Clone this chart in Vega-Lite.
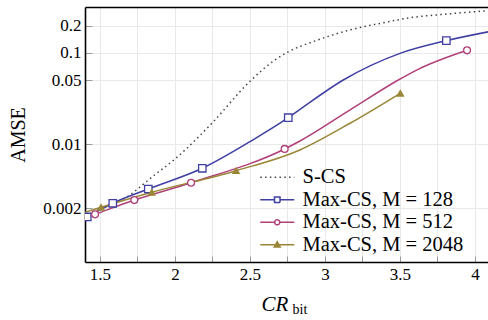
{
  "$schema": "https://vega.github.io/schema/vega-lite/v6.json",
  "width": 403,
  "height": 255,
  "autosize": "none",
  "padding": {"left": 85, "top": 7, "right": 0, "bottom": 58},
  "background": "white",
  "config": {"font": "Liberation Serif", "view": {"stroke": null}, "axis": {"labelFont": "Liberation Serif", "titleFont": "Liberation Serif"}, "legend": {"labelFont": "Liberation Serif"}},
  "data": {"values": [
    {"s": "S-CS", "x": 1.42, "y": 0.00172, "m": 0},
    {"s": "S-CS", "x": 1.55, "y": 0.0021, "m": 0},
    {"s": "S-CS", "x": 1.65, "y": 0.00248, "m": 0},
    {"s": "S-CS", "x": 1.867, "y": 0.00466, "m": 0},
    {"s": "S-CS", "x": 2.0, "y": 0.0069, "m": 0},
    {"s": "S-CS", "x": 2.067, "y": 0.00867, "m": 0},
    {"s": "S-CS", "x": 2.253, "y": 0.0175, "m": 0},
    {"s": "S-CS", "x": 2.489, "y": 0.047, "m": 0},
    {"s": "S-CS", "x": 2.66, "y": 0.0824, "m": 0},
    {"s": "S-CS", "x": 2.755, "y": 0.103, "m": 0},
    {"s": "S-CS", "x": 2.92, "y": 0.133, "m": 0},
    {"s": "S-CS", "x": 3.145, "y": 0.175, "m": 0},
    {"s": "S-CS", "x": 3.367, "y": 0.211, "m": 0},
    {"s": "S-CS", "x": 3.589, "y": 0.246, "m": 0},
    {"s": "S-CS", "x": 3.811, "y": 0.267, "m": 0},
    {"s": "S-CS", "x": 4.1, "y": 0.292, "m": 0},
    {"s": "Max-CS, M = 128", "x": 1.415, "y": 0.0016, "m": 1},
    {"s": "Max-CS, M = 128", "x": 1.585, "y": 0.00226, "m": 1},
    {"s": "Max-CS, M = 128", "x": 1.822, "y": 0.00324, "m": 1},
    {"s": "Max-CS, M = 128", "x": 2.182, "y": 0.00546, "m": 1},
    {"s": "Max-CS, M = 128", "x": 2.5, "y": 0.0107, "m": 0},
    {"s": "Max-CS, M = 128", "x": 2.755, "y": 0.01955, "m": 1},
    {"s": "Max-CS, M = 128", "x": 2.833, "y": 0.0241, "m": 0},
    {"s": "Max-CS, M = 128", "x": 3.122, "y": 0.0506, "m": 0},
    {"s": "Max-CS, M = 128", "x": 3.5, "y": 0.099, "m": 0},
    {"s": "Max-CS, M = 128", "x": 3.809, "y": 0.1365, "m": 1},
    {"s": "Max-CS, M = 128", "x": 4.1, "y": 0.172, "m": 0},
    {"s": "Max-CS, M = 512", "x": 1.4, "y": 0.00156, "m": 0},
    {"s": "Max-CS, M = 512", "x": 1.467, "y": 0.00171, "m": 1},
    {"s": "Max-CS, M = 512", "x": 1.729, "y": 0.00245, "m": 1},
    {"s": "Max-CS, M = 512", "x": 2.107, "y": 0.00379, "m": 1},
    {"s": "Max-CS, M = 512", "x": 2.731, "y": 0.00889, "m": 1},
    {"s": "Max-CS, M = 512", "x": 2.833, "y": 0.01086, "m": 0},
    {"s": "Max-CS, M = 512", "x": 3.167, "y": 0.0238, "m": 0},
    {"s": "Max-CS, M = 512", "x": 3.489, "y": 0.0506, "m": 0},
    {"s": "Max-CS, M = 512", "x": 3.611, "y": 0.065, "m": 0},
    {"s": "Max-CS, M = 512", "x": 3.947, "y": 0.107, "m": 1},
    {"s": "Max-CS, M = 2048", "x": 1.4, "y": 0.0018, "m": 0},
    {"s": "Max-CS, M = 2048", "x": 1.507, "y": 0.00204, "m": 1},
    {"s": "Max-CS, M = 2048", "x": 1.845, "y": 0.00298, "m": 1},
    {"s": "Max-CS, M = 2048", "x": 2.407, "y": 0.00514, "m": 1},
    {"s": "Max-CS, M = 2048", "x": 2.833, "y": 0.00867, "m": 0},
    {"s": "Max-CS, M = 2048", "x": 3.167, "y": 0.017, "m": 0},
    {"s": "Max-CS, M = 2048", "x": 3.502, "y": 0.0362, "m": 1}
  ]},
  "resolve": {"axis": {"x": "independent"}},
  "layer": [
    {
      "transform": [{"filter": "datum.s === 'S-CS'"}],
      "mark": {"type": "line", "strokeWidth": 1.5, "strokeDash": [1.5, 3.3], "strokeCap": "butt", "interpolate": "monotone", "clip": true},
      "encoding": {
        "x": {"field": "x", "type": "quantitative",
          "scale": {"domain": [1.4, 4.0867], "nice": false, "zero": false},
          "axis": {"orient": "bottom", "values": [1.5, 1.75, 2, 2.25, 2.5, 2.75, 3, 3.25, 3.5, 3.75, 4],
            "labelExpr": "datum.value % 0.5 === 0 ? format(datum.value, '~g') : ''",
            "domain": true, "domainColor": "black", "domainWidth": 1.6,
            "ticks": true, "tickSize": -6, "tickColor": "#9a9a9a", "tickWidth": 1,
            "grid": true, "gridColor": "#e9e9e9", "gridWidth": 1,
            "labelFont": "Liberation Serif", "labelFontSize": 17, "labelColor": "black",
            "labelBaseline": "alphabetic", "labelPadding": 23,
            "title": "CR", "titleFont": "Liberation Serif", "titleFontStyle": "italic", "titleFontWeight": "normal",
            "titleFontSize": 21, "titleColor": "black", "titleX": 176, "titleY": 48,
            "titleAlign": "left", "titleBaseline": "alphabetic", "titleAngle": 0}},
        "y": {"field": "y", "type": "quantitative",
          "scale": {"type": "log", "domain": [0.000514, 0.319], "nice": false},
          "axis": {"values": [0.002, 0.01, 0.05, 0.1, 0.2],
            "labelExpr": "format(datum.value, '~g')",
            "domain": true, "domainColor": "black", "domainWidth": 1.6,
            "ticks": true, "tickSize": -7, "tickColor": "#9a9a9a", "tickWidth": 1,
            "grid": true, "gridColor": "#e9e9e9", "gridWidth": 1,
            "labelFont": "Liberation Serif", "labelFontSize": 17, "labelColor": "black",
            "labelPadding": 11,
            "title": "AMSE", "titleFont": "Liberation Serif", "titleFontWeight": "normal",
            "titleFontSize": 20, "titleColor": "black", "titleX": -61, "titleY": 127.5,
            "titleAlign": "center", "titleBaseline": "alphabetic", "titleAngle": -90}},
        "color": {"field": "s", "type": "nominal",
          "scale": {"domain": ["S-CS", "Max-CS, M = 128", "Max-CS, M = 512", "Max-CS, M = 2048"],
                    "range": ["#444444", "#3F3FA3", "#B0407A", "#9A8636"]},
          "legend": {"orient": "none", "legendX": 182, "legendY": 160, "title": null,
            "labelFont": "Liberation Serif", "labelFontSize": 20.5, "labelColor": "black", "labelLimit": 400,
            "symbolSize": 100, "symbolStrokeWidth": 1.5, "labelOffset": 15, "rowPadding": 1.5,
            "padding": 0,
            "encode": {"symbols": {"update": {
              "shape": {"signal": "datum.value === 'S-CS' ? 'M-3.4,0H3.4' : datum.value === 'Max-CS, M = 128' ? 'M-3.4,0H-0.55M0.55,0H3.4M-0.55,-0.55H0.55V0.55H-0.55Z' : datum.value === 'Max-CS, M = 512' ? 'M-3.4,0H-0.5M0.5,0H3.4M-0.5,0A0.5,0.5,0,1,1,0.5,0A0.5,0.5,0,1,1,-0.5,0Z' : 'M-3.4,0H3.4M0,-0.6L0.6,0.45L-0.6,0.45Z'"},
              "fill": {"signal": "datum.value === 'Max-CS, M = 2048' ? '#9A8636' : datum.value === 'S-CS' ? 'transparent' : 'white'"},
              "stroke": {"signal": "datum.value === 'S-CS' ? '#444444' : datum.value === 'Max-CS, M = 128' ? '#3F3FA3' : datum.value === 'Max-CS, M = 512' ? '#B0407A' : '#9A8636'"},
              "strokeDash": {"signal": "datum.value === 'S-CS' ? [1.5, 3.3] : [1, 0]"},
              "strokeWidth": {"value": 1.5},
              "opacity": {"value": 1}
            }}}}}
      }
    },
    {
      "transform": [{"filter": "datum.s !== 'S-CS'"}],
      "mark": {"type": "line", "strokeWidth": 1.5, "interpolate": "monotone", "clip": true},
      "encoding": {
        "x": {"field": "x", "type": "quantitative", "scale": {"domain": [1.4, 4.0867], "nice": false, "zero": false}, "axis": null},
        "y": {"field": "y", "type": "quantitative", "scale": {"type": "log", "domain": [0.000514, 0.319], "nice": false}},
        "color": {"field": "s", "type": "nominal",
          "scale": {"domain": ["S-CS", "Max-CS, M = 128", "Max-CS, M = 512", "Max-CS, M = 2048"],
                    "range": ["#444444", "#3F3FA3", "#B0407A", "#9A8636"]}}
      }
    },
    {
      "transform": [{"filter": "datum.m === 1"}],
      "mark": {"type": "point", "filled": true, "strokeWidth": 1.3, "opacity": 1, "clip": true},
      "encoding": {
        "x": {"field": "x", "type": "quantitative", "scale": {"domain": [1.4, 4.0867], "nice": false, "zero": false},
          "axis": {"orient": "top", "domain": true, "domainColor": "black", "domainWidth": 1.6,
            "ticks": false, "labels": false, "grid": false,
            "title": "bit", "titleFont": "Liberation Serif", "titleFontWeight": "normal", "titleFontSize": 14,
            "titleColor": "black", "titleX": 207, "titleY": 306, "titleAlign": "left", "titleBaseline": "alphabetic", "titleAngle": 0}},
        "y": {"field": "y", "type": "quantitative", "scale": {"type": "log", "domain": [0.000514, 0.319], "nice": false}},
        "shape": {"field": "s", "type": "nominal",
          "scale": {"domain": ["Max-CS, M = 128", "Max-CS, M = 512", "Max-CS, M = 2048"], "range": ["square", "circle", "triangle-up"]},
          "legend": null},
        "stroke": {"field": "s", "type": "nominal",
          "scale": {"domain": ["Max-CS, M = 128", "Max-CS, M = 512", "Max-CS, M = 2048"], "range": ["#3F3FA3", "#B0407A", "#9A8636"]},
          "legend": null},
        "fill": {"field": "s", "type": "nominal",
          "scale": {"domain": ["Max-CS, M = 128", "Max-CS, M = 512", "Max-CS, M = 2048"], "range": ["white", "white", "#9A8636"]},
          "legend": null},
        "size": {"field": "s", "type": "nominal",
          "scale": {"domain": ["Max-CS, M = 128", "Max-CS, M = 512", "Max-CS, M = 2048"], "range": [55, 40, 50]},
          "legend": null}
      }
    }
  ]
}
